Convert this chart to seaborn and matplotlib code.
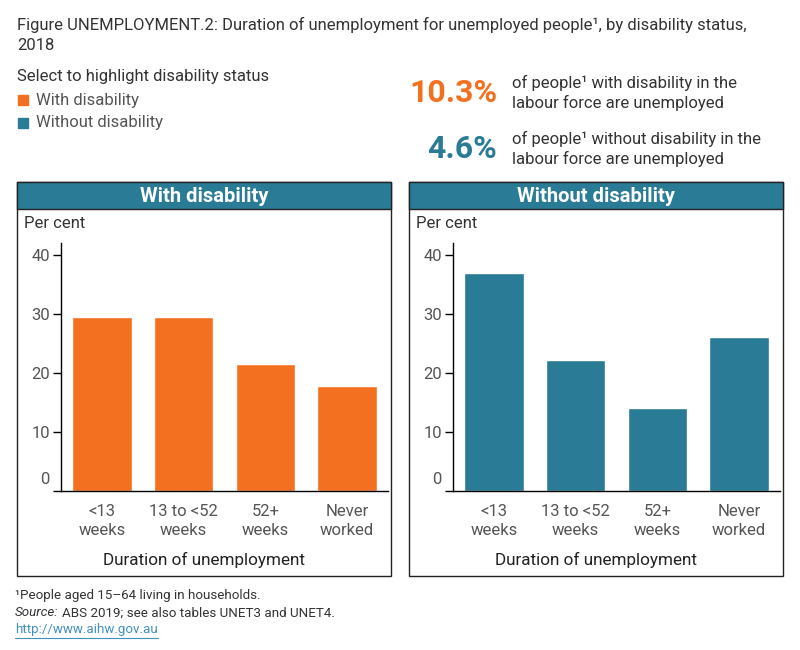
import matplotlib
matplotlib.use("Agg")
import matplotlib.pyplot as plt
import matplotlib.transforms as mtransforms
import seaborn as sns
import pandas as pd
from matplotlib.patches import Rectangle
from matplotlib.lines import Line2D

# data
durations = ["<13\nweeks", "13 to <52\nweeks", "52+\nweeks", "Never\nworked"]
with_disability = [29.5, 29.5, 21.5, 17.7]
without_disability = [36.9, 22.2, 14.1, 26.1]
panel_titles = ["With disability", "Without disability"]
rates = ["10.3%", "4.6%"]
rate_text = [
    "of people\u00b9 with disability in the\nlabour force are unemployed",
    "of people\u00b9 without disability in the\nlabour force are unemployed",
]
y_ticks = [0, 10, 20, 30, 40]

ORANGE = "#F37021"
TEAL = "#2A7B96"
DARK = "#333333"
GREY = "#555555"

sns.set_theme(style="white")
plt.rcParams["font.family"] = ["Roboto", "DejaVu Sans"]

W, H = 800, 650
fig = plt.figure(figsize=(8, 6.5), dpi=100)


def fx(px):
    return px / W


def fy(py):
    return 1 - py / H


def ftext(x, y, s, **kw):
    return fig.text(fx(x), fy(y), s, **kw)


# header texts
ftext(17, 25, "Figure UNEMPLOYMENT.2: Duration of unemployment for unemployed people\u00b9, by disability status,",
      fontsize=12, color=DARK, va="center")
ftext(17, 46, "2018", fontsize=12, color=DARK, va="center")

ftext(17, 77, "Select to highlight disability status", fontsize=12, color=DARK, va="center")
for i, (lab, col) in enumerate(zip(panel_titles, [ORANGE, TEAL])):
    yc = 100 + i * 23
    fig.patches.append(Rectangle((fx(18), fy(yc + 5)), fx(10), 10 / H,
                                 transform=fig.transFigure, color=col))
    ftext(36, yc, lab, fontsize=12, color=GREY, va="center")

for i, (r, t, col) in enumerate(zip(rates, rate_text, [ORANGE, TEAL])):
    yc = 93 + i * 56
    ftext(497, yc, r, fontsize=23, fontweight="bold", color=col, ha="right", va="center")
    ftext(512, yc, t, fontsize=12, color=DARK, ha="left", va="center", linespacing=1.35)

# panels
panels = [(17, 391, with_disability, ORANGE, 61, 388),
          (409, 783, without_disability, TEAL, 453, 780)]
for (x0, x1, vals, col, ax0, ax1), title in zip(panels, panel_titles):
    fig.patches.append(Rectangle((fx(x0), fy(576)), fx(x1 - x0), (576 - 182) / H,
                                 transform=fig.transFigure, facecolor="white",
                                 edgecolor="#222222", lw=1, zorder=0))
    fig.patches.append(Rectangle((fx(x0), fy(209)), fx(x1 - x0), (209 - 182) / H,
                                 transform=fig.transFigure, facecolor=TEAL,
                                 edgecolor="#222222", lw=1, zorder=0))
    cx = (x0 + x1) / 2
    ftext(cx, 196, title, fontsize=14.5, fontweight="bold", color="white", ha="center", va="center")
    ftext(x0 + 7, 224, "Per cent", fontsize=12, color=DARK, va="center")
    ftext(cx, 560, "Duration of unemployment", fontsize=12.3, color="#222222", ha="center", va="center")

    ax = fig.add_axes([fx(ax0), fy(491), fx(ax1 - ax0), (491 - 243) / H])
    ax.set_zorder(3)
    ax.patch.set_alpha(0)
    df = pd.DataFrame({"duration": durations, "value": vals})
    sns.barplot(data=df, x="duration", y="value", color=col, saturation=1,
                width=0.73, ax=ax)
    ax.set_xlim(-0.5, 3.5)
    ax.set_ylim(0, 42)
    ax.set_yticks(y_ticks)
    ax.set_xlabel("")
    ax.set_ylabel("")
    for s in ["top", "right"]:
        ax.spines[s].set_visible(False)
    for s in ["left", "bottom"]:
        ax.spines[s].set_color("black")
        ax.spines[s].set_linewidth(1)
    ax.tick_params(axis="y", left=True, length=6, width=1, color="black",
                   labelsize=12, labelcolor=GREY, pad=2)
    ax.tick_params(axis="x", bottom=False, labelsize=12, labelcolor=GREY, pad=3)
    for lab in ax.get_xticklabels():
        lab.set_linespacing(1.4)
    zero = ax.get_yticklabels()[0]
    zero.set_verticalalignment("bottom")
    zero.set_transform(zero.get_transform()
                       + mtransforms.ScaledTranslation(0, 3 / 72, fig.dpi_scale_trans))

# footer
ftext(15, 596, "\u00b9People aged 15\u201364 living in households.", fontsize=9.6, color=DARK, va="center")
src = ftext(15, 613, "Source:", fontsize=9.6, color=DARK, va="center", style="italic")
fig.canvas.draw()
r = fig.canvas.get_renderer()
bb = src.get_window_extent(r)
fig.text(bb.x1 / W + fx(3), fy(613), "ABS 2019; see also tables UNET3 and UNET4.",
         fontsize=9.6, color=DARK, va="center")
url = ftext(15, 630, "http://www.aihw.gov.au", fontsize=9.6, color="#3F8FBF", va="center")
ub = url.get_window_extent(r)
fig.lines.append(Line2D([fx(15), ub.x1 / W], [fy(638), fy(638)],
                        transform=fig.transFigure, color="#3F8FBF", lw=0.8))

fig.savefig("out.png", dpi=100)
